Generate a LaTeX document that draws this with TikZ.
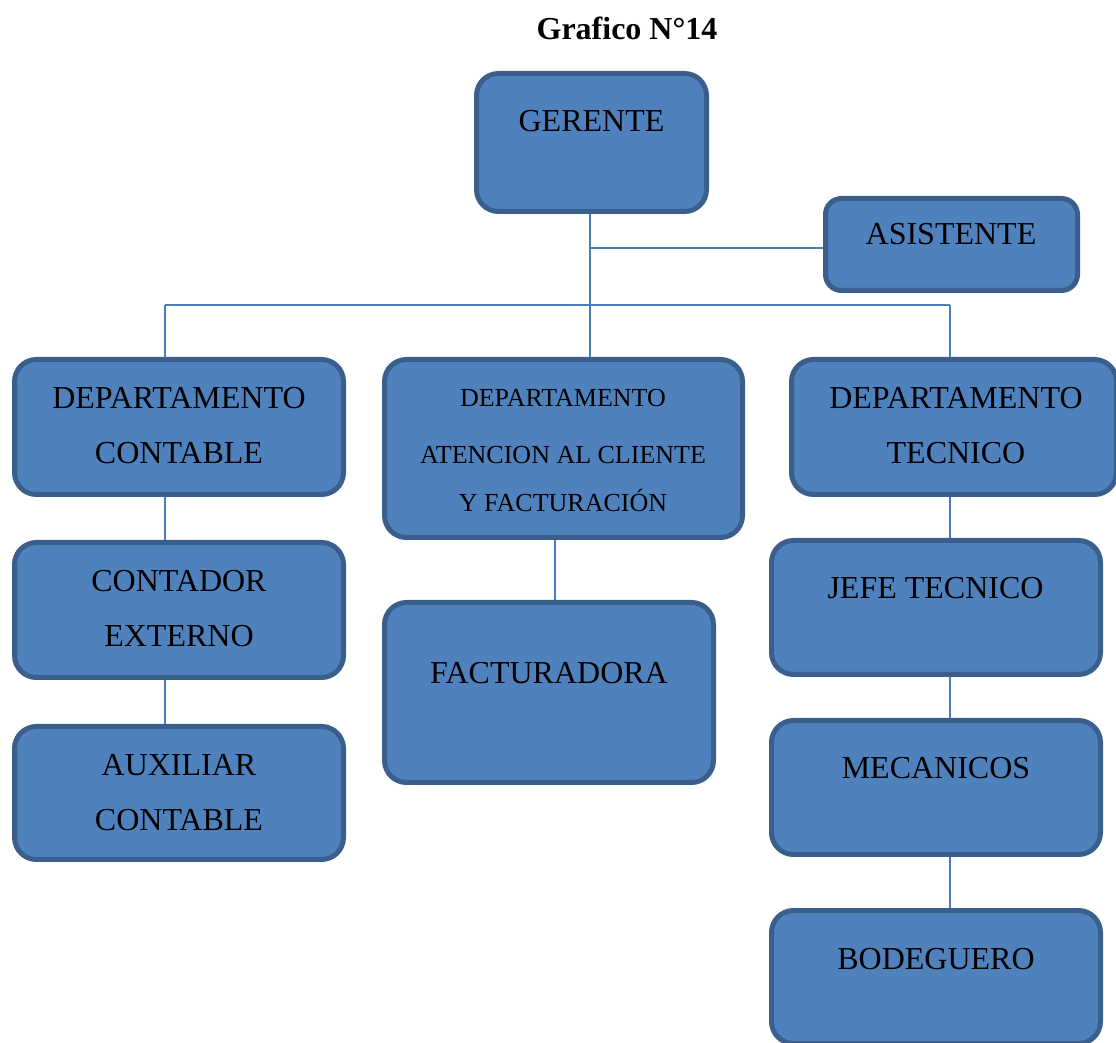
\documentclass[tikz,border=0pt]{standalone}
\usepackage{fontspec}
\setmainfont{Liberation Serif}
\usetikzlibrary{positioning}
\definecolor{boxfill}{HTML}{4F81BD}
\definecolor{boxline}{HTML}{3A5F8C}
\definecolor{linkcol}{HTML}{4A7EBB}

\begin{document}
\begin{tikzpicture}[x=0.5pt,y=-0.5pt]

\tikzset{box/.style = {draw=boxline, fill=boxfill, line width=2.5pt, rounded corners=11pt, minimum width=164.5pt, minimum height=67.5pt}}
\tikzset{txt/.style = {anchor=north, inner sep=0pt, align=center, font=\fontsize{16}{27.5}\selectfont}}
\tikzset{link/.style = {draw=linkcol, line width=1pt}}
\useasboundingbox (0,0) rectangle (1116,1043);
\node[font=\bfseries\fontsize{16}{19}\selectfont, anchor=north, inner sep=0pt] (title) at (627,17) {Grafico N°14};
%boxes
\node[box, minimum width=115pt, minimum height=69pt] (gerente) at (591.5,142.5) {};
\node[box, minimum width=126pt, minimum height=46pt, rounded corners=8pt] (asistente) at (951.5,244.5) {};
\node[box] (contable) at (179,427) {};
\node[box, minimum width=179pt, minimum height=89pt] (atencion) at (563.5,448.5) {};
\node[box, minimum width=162.5pt] (tecnico) at (954,427) {};
\node[box] (contador) at (179,610) {};
\node[box, minimum height=66.5pt] (auxiliar) at (179,793) {};
\node[box, minimum height=90pt] (facturadora) at (549,692.5) {};
\node[box, minimum height=67pt] (jefe) at (936,607.5) {};
\node[box, minimum height=67pt] (mecanicos) at (936,787.5) {};
\node[box, minimum height=66.5pt] (bodeguero) at (936,977) {};
%texts
\node[txt] (tgerente) at (591.5,110) {GERENTE};
\node[txt] (tasistente) at (951,223) {ASISTENTE};
\node[txt] (tcontable) at (179,387) {DEPARTAMENTO\\CONTABLE};
\node[txt, font=\fontsize{13}{24}\selectfont] (tatencion) at (563,389) {DEPARTAMENTO\\[4.5pt]ATENCION AL CLIENTE\\Y FACTURACIÓN};
\node[txt] (ttecnico) at (956,387) {DEPARTAMENTO\\TECNICO};
\node[txt] (tcontador) at (179,570) {CONTADOR\\EXTERNO};
\node[txt] (tauxiliar) at (179,754) {AUXILIAR\\CONTABLE};
\node[txt] (tfacturadora) at (549,662) {FACTURADORA};
\node[txt] (tjefe) at (935.5,577) {JEFE TECNICO};
\node[txt] (tmecanicos) at (936,757) {MECANICOS};
\node[txt] (tbodeguero) at (936,948) {BODEGUERO};
%lines
\coordinate (top) at (590,248);
\coordinate (busL) at (165,305);
\coordinate (busR) at (950,305);
\coordinate (downM) at (555,0);
\draw[link] (top |- gerente.south) -- (top |- atencion.north);
\draw[link] (top) -- (asistente.west |- top);
\draw[link] (busL) -- (busR);
\draw[link] (busL) -- (busL |- contable.north);
\draw[link] (busR) -- (busR |- tecnico.north);
\draw[link] (busL |- contable.south) -- (busL |- contador.north);
\draw[link] (busL |- contador.south) -- (busL |- auxiliar.north);
\draw[link] (downM |- atencion.south) -- (downM |- facturadora.north);
\draw[link] (busR |- tecnico.south) -- (busR |- jefe.north);
\draw[link] (busR |- jefe.south) -- (busR |- mecanicos.north);
\draw[link] (busR |- mecanicos.south) -- (busR |- bodeguero.north);

\end{tikzpicture}
\end{document}
